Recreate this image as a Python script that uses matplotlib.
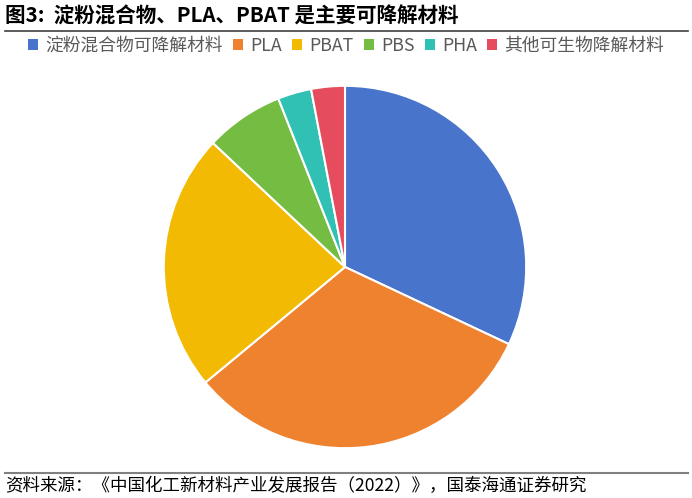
import matplotlib.pyplot as plt
from matplotlib.lines import Line2D
from matplotlib.patches import Patch

plt.rcParams['font.family'] = ['Noto Sans CJK SC', 'DejaVu Sans']

# share of degradable materials (%)
labels = ['淀粉混合物可降解材料', 'PLA', 'PBAT', 'PBS', 'PHA', '其他可生物降解材料']
shares = [32, 32, 23, 7, 3, 3]
colors = ['#4874CB', '#EE822F', '#F2BA02', '#75BD42', '#30C0B4', '#E54C5E']

title = '图3:  淀粉混合物、PLA、PBAT 是主要可降解材料'
source = '资料来源：《中国化工新材料产业发展报告（2022）》，国泰海通证券研究'

W, H = 692, 498
fig = plt.figure(figsize=(W / 100, H / 100), dpi=100)

# title + rule
fig.text(5 / W, 1 - 16 / H, title, fontsize=14.8, fontweight='bold',
         va='center', ha='left', color='black')
fig.add_artist(Line2D([5 / W, 688 / W], [1 - 31 / H, 1 - 31 / H],
                      color='#404040', lw=1.2))

# pie
cx, cy, r = 345, 267, 183
ax = fig.add_axes([(cx - r) / W, (H - cy - r) / H, 2 * r / W, 2 * r / H])
ax.pie(shares, colors=colors, startangle=90, counterclock=False,
       wedgeprops=dict(edgecolor='white', linewidth=1.5))
ax.set_xlim(-1.01, 1.01)
ax.set_ylim(-1.01, 1.01)
ax.set_aspect('equal')
ax.axis('off')

# legend
handles = [Patch(facecolor=c, edgecolor='none') for c in colors]
fig.legend(handles, labels, loc='center', bbox_to_anchor=(346 / W, 1 - 46 / H),
           ncol=6, frameon=False, fontsize=12.8, labelcolor='#595959',
           handlelength=0.55, handleheight=0.55, handletextpad=0.4,
           columnspacing=0.6)

# source + rule
fig.add_artist(Line2D([5 / W, 688 / W], [1 - 473 / H, 1 - 473 / H],
                      color='#808080', lw=1.5))
fig.text(5 / W, 1 - 486 / H, source, fontsize=12.6, va='center', ha='left',
         color='black')

fig.savefig('out.png', dpi=100)
